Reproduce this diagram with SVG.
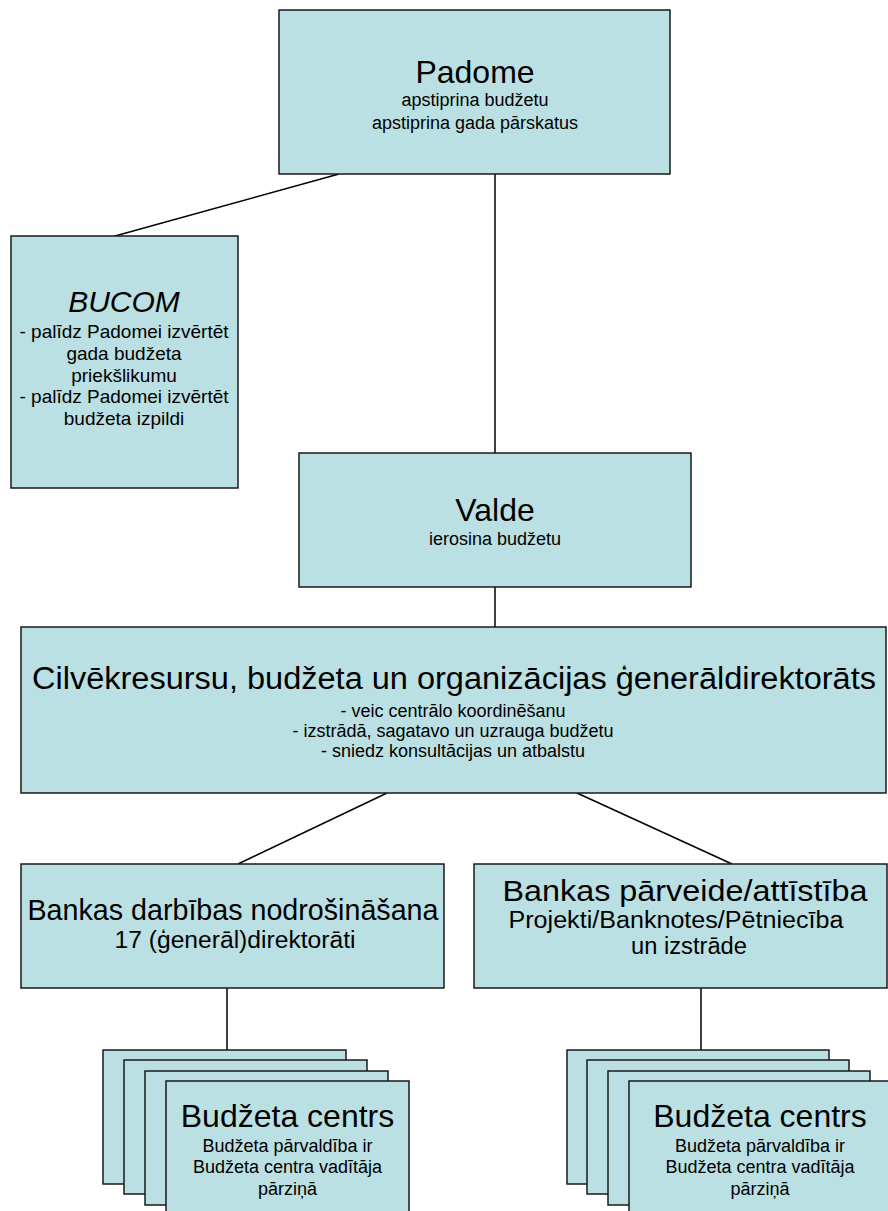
<svg xmlns="http://www.w3.org/2000/svg" width="888" height="1211" viewBox="0 0 888 1211">
<style>
.box{fill:#BBE0E3;stroke:#1a1a1a;stroke-width:1.5}
.t{font-family:"Liberation Sans",Arial,sans-serif;fill:#000;text-anchor:middle}
.h{font-size:32px}
.s{font-size:18px}
.c{stroke:#000;stroke-width:1.5;fill:none}
</style>
<rect width="888" height="1211" fill="#fff"/>
<g id="connectors">
<line class="c" x1="339" y1="174" x2="115" y2="236"/>
<line class="c" x1="495" y1="174" x2="495" y2="453"/>
<line class="c" x1="495" y1="587" x2="495" y2="627"/>
<line class="c" x1="387" y1="793" x2="238" y2="864"/>
<line class="c" x1="577" y1="793" x2="732" y2="864"/>
<line class="c" x1="227" y1="988" x2="227" y2="1050"/>
<line class="c" x1="701" y1="988" x2="701" y2="1050"/>
</g>
<g id="padome">
<rect class="box" x="279" y="10" width="391" height="164"/>
<text class="t h" x="475" y="83">Padome</text>
<text class="t s" x="475" y="106">apstiprina budžetu</text>
<text class="t s" x="475" y="129">apstiprina gada pārskatus</text>
</g>
<g id="bucom">
<rect class="box" x="11" y="236" width="227" height="252"/>
<text class="t" x="124" y="312" font-size="30" font-style="italic">BUCOM</text>
<text class="t" x="124" y="338" font-size="19">- palīdz Padomei izvērtēt</text>
<text class="t" x="124" y="360" font-size="19">gada budžeta</text>
<text class="t" x="124" y="382" font-size="19">priekšlikumu</text>
<text class="t" x="124" y="403" font-size="19">- palīdz Padomei izvērtēt</text>
<text class="t" x="124" y="425" font-size="19">budžeta izpildi</text>
</g>
<g id="valde">
<rect class="box" x="299" y="453" width="392" height="134"/>
<text class="t h" x="495" y="521">Valde</text>
<text class="t s" x="495" y="545">ierosina budžetu</text>
</g>
<g id="cilvekresursu">
<rect class="box" x="21" y="627" width="865" height="166"/>
<text class="t" x="454" y="689" font-size="31" textLength="844" lengthAdjust="spacingAndGlyphs">Cilvēkresursu, budžeta un organizācijas ģenerāldirektorāts</text>
<text class="t s" x="453" y="717">- veic centrālo koordinēšanu</text>
<text class="t s" x="453" y="737">- izstrādā, sagatavo un uzrauga budžetu</text>
<text class="t s" x="453" y="757">- sniedz konsultācijas un atbalstu</text>
</g>
<g id="bankas-darbibas">
<rect class="box" x="21" y="864" width="423" height="124"/>
<text class="t" x="233" y="920" font-size="29" textLength="411" lengthAdjust="spacingAndGlyphs">Bankas darbības nodrošināšana</text>
<text class="t" x="235" y="948" font-size="23" textLength="241" lengthAdjust="spacingAndGlyphs">17 (ģenerāl)direktorāti</text>
</g>
<g id="bankas-parveide">
<rect class="box" x="474" y="864" width="413" height="124"/>
<text class="t" x="685" y="901" font-size="29" textLength="365" lengthAdjust="spacingAndGlyphs">Bankas pārveide/attīstība</text>
<text class="t" x="676" y="928" font-size="23" textLength="335" lengthAdjust="spacingAndGlyphs">Projekti/Banknotes/Pētniecība</text>
<text class="t" x="689" y="954" font-size="23" textLength="116" lengthAdjust="spacingAndGlyphs">un izstrāde</text>
</g>
<g id="budzeta-centrs-left">
<rect class="box" x="103" y="1050" width="243" height="134"/>
<rect class="box" x="124" y="1060" width="243" height="134"/>
<rect class="box" x="145" y="1071" width="243" height="134"/>
<rect class="box" x="166" y="1081" width="243" height="134"/>
<text class="t h" x="287.5" y="1127">Budžeta centrs</text>
<text class="t s" x="287.5" y="1152">Budžeta pārvaldība ir</text>
<text class="t s" x="287.5" y="1173">Budžeta centra vadītāja</text>
<text class="t s" x="287.5" y="1195">pārziņā</text>
</g>
<g id="budzeta-centrs-right">
<rect class="box" x="567" y="1050" width="262" height="134"/>
<rect class="box" x="587" y="1060" width="262" height="134"/>
<rect class="box" x="608" y="1071" width="262" height="134"/>
<rect class="box" x="629" y="1081" width="262" height="134"/>
<text class="t h" x="760" y="1127">Budžeta centrs</text>
<text class="t s" x="760" y="1152">Budžeta pārvaldība ir</text>
<text class="t s" x="760" y="1173">Budžeta centra vadītāja</text>
<text class="t s" x="760" y="1195">pārziņā</text>
</g>
</svg>
